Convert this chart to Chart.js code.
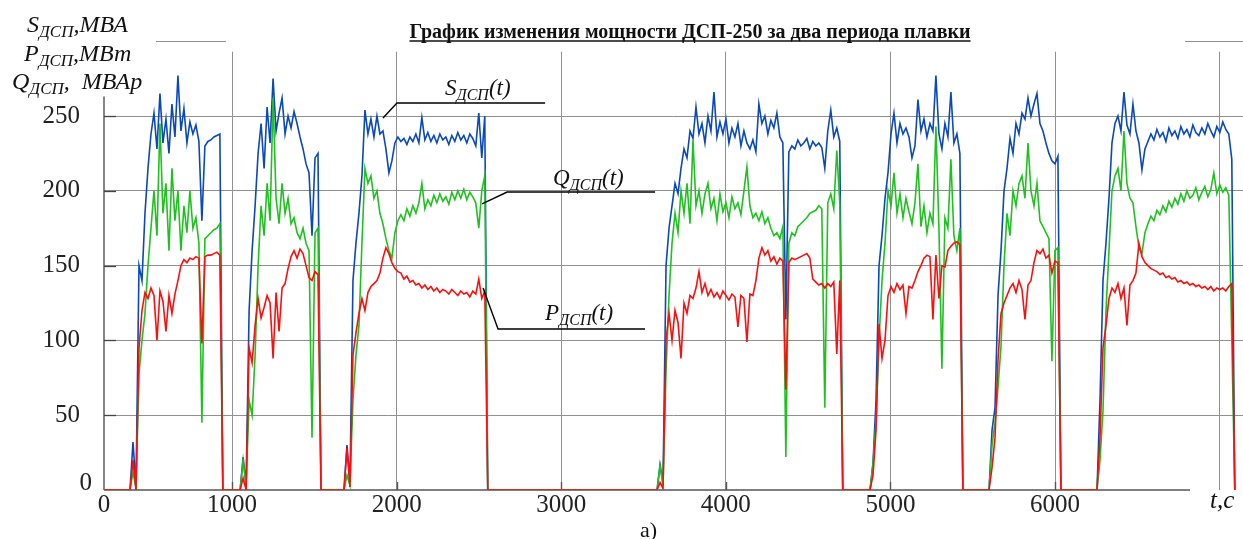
<!DOCTYPE html>
<html><head><meta charset="utf-8">
<script src="https://cdn.jsdelivr.net/npm/chart.js@4.4.1/dist/chart.umd.min.js"></script>
<style>html,body{margin:0;padding:0;background:#fff;overflow:hidden}</style>
</head><body>
<canvas id="c" width="1243" height="539" style="display:block;width:1243px;height:539px"></canvas>
<script>
// ---- data (time in seconds, power values in MVA / MW / Mvar) ----
const blockStart = [380, 1049, 1680, 3582, 4876, 5599, 6255];
const sampleStep = 18.2;

const S1 = [0,32,2,150,140,185,215,238,252,228,265,232,248,225,258,236,277,240,255,232,246,238,244,233,180,230,233,234,236,237,238,0];
const Q1 = [0,12,1,78,100,118,150,175,200,170,245,185,205,160,215,180,200,160,190,172,200,175,182,165,45,168,170,172,174,175,178,0];
const P1 = [0,20,0,95,120,132,128,135,130,100,133,126,106,130,118,131,140,150,154,152,155,154,156,155,98,156,157,157,158,159,157,0];

const S2 = [0,22,3,120,160,190,225,245,215,256,232,275,240,252,262,238,250,242,253,245,236,228,218,212,170,222,225,0];
const Q2 = [0,20,2,60,50,90,150,190,170,205,180,262,195,178,205,185,195,178,182,172,168,175,165,160,35,172,175,0];
const P2 = [0,8,0,95,85,110,128,115,122,130,125,88,132,106,135,138,148,156,160,155,161,158,150,142,140,146,144,0];

const S3 = [0,30,5,140,165,185,210,254,238,248,236,250,238,240,228,212,220,232,236,233,235,231,236,233,238,232,249,234,239,233,237,232,238,234,236,231,237,233,239,234,237,232,238,235,230,252,222,250,0];
const Q3 = [0,10,3,60,90,110,165,215,205,210,195,200,185,178,168,160,155,172,180,184,180,188,183,190,185,192,205,188,194,190,197,192,198,193,196,191,199,194,200,195,201,194,199,196,192,175,200,210,0];
const P3 = [0,28,2,90,105,118,128,120,132,136,138,140,145,155,162,158,152,148,146,145,141,143,139,140,137,138,135,137,134,136,133,135,132,134,133,131,134,132,130,133,131,132,129,133,131,141,128,133,0];

const S4 = [0,17,5,150,175,190,205,198,215,228,222,240,235,256,238,245,232,250,240,266,236,246,238,248,232,242,236,245,230,240,232,228,234,226,258,245,250,238,247,242,252,236,232,114,226,230,228,234,230,232,235,228,233,230,232,229,215,240,254,236,242,233,0];
const Q4 = [0,16,3,80,130,165,185,172,200,185,205,178,234,190,200,185,198,205,188,195,180,198,186,192,182,196,188,192,184,200,216,190,182,185,180,186,178,182,175,170,172,168,176,22,165,172,170,176,178,180,182,185,186,187,190,188,55,192,198,188,227,192,0];
const P4 = [0,5,1,100,118,100,120,112,88,125,118,130,128,135,146,132,138,130,134,129,132,128,133,130,127,131,129,109,130,128,99,131,130,140,155,162,157,160,153,156,151,155,153,67,152,155,154,155,156,157,158,155,141,139,137,138,135,138,136,139,91,140,0];

const S5 = [0,18,60,150,170,195,212,238,252,232,245,238,242,236,222,230,261,240,248,236,245,240,277,238,228,245,236,266,232,238,225,0];
const Q5 = [0,18,45,100,140,165,200,190,212,185,198,182,195,186,178,192,218,176,190,172,185,178,243,175,81,182,175,221,170,160,175,0];
const P5 = [0,10,40,111,88,100,130,136,132,138,134,137,118,136,135,140,146,150,155,157,156,114,157,128,150,149,160,163,165,166,164,0];

const S6 = [0,40,55,130,160,200,215,235,225,245,238,252,248,262,250,258,265,245,240,232,225,220,218,223,0];
const Q6 = [0,30,45,69,96,150,185,170,200,190,205,210,195,232,200,190,205,180,176,172,168,86,160,162,0];
const P6 = [0,15,35,87,118,125,130,135,138,132,140,134,114,137,140,152,160,158,161,155,157,145,153,152,0];

const S7 = [0,60,140,165,195,232,245,250,240,266,244,238,258,240,232,214,228,233,238,234,241,236,239,233,242,237,240,235,243,238,241,236,244,239,237,242,238,245,240,236,243,239,246,241,238,221,0];
const Q7 = [0,20,53,120,160,200,210,215,200,240,205,195,192,176,162,158,172,178,183,180,187,184,190,186,193,189,195,191,198,193,200,195,197,202,194,199,203,196,201,212,198,204,199,202,197,100,0];
const P7 = [0,35,95,110,128,135,132,138,128,135,110,137,140,145,165,156,152,150,148,147,146,144,145,142,143,141,142,139,140,138,139,137,138,136,137,135,136,134,136,133,135,134,135,133,136,138,0];

const xAxisStart = 222, xAxisMax = 7142, xAxisEnd = 6820;
const xTickValues = [1000, 2000, 3000, 4000, 5000, 6000, 7000];
const xTickLabels = ['1000', '2000', '3000', '4000', '5000', '6000', ''];
const yTicks = [0, 50, 100, 150, 200, 250];
const yAxisMax = 293, yAxisTop = 263;

function series(blocks) {
  const pts = [{x: 0, y: 0}];
  blocks.forEach((vals, b) => vals.forEach((v, i) => pts.push({x: blockStart[b] + i * sampleStep, y: v})));
  return pts;
}

const SERIF = '"Liberation Serif", "Times New Roman", serif';

function rich(ctx, x, y, parts) {
  let cx = x;
  for (const [t, f, dy] of parts) {
    ctx.font = f;
    ctx.fillText(t, cx, y + (dy || 0));
    cx += ctx.measureText(t).width;
  }
  return cx;
}

const decor = {
  id: 'decor',
  beforeDatasetsDraw(chart) {
    const {ctx, chartArea: a, scales: {x, y}} = chart;
    ctx.save();
    const y0 = y.getPixelForValue(0);
    // top partial frame line
    ctx.strokeStyle = '#8f8f8f'; ctx.lineWidth = 1;
    const yt = Math.round(y.getPixelForValue(300)) + 0.5;
    [[538, 963], [6790, 7142]].forEach(([a1, a2]) => {
      ctx.beginPath(); ctx.moveTo(x.getPixelForValue(a1), yt); ctx.lineTo(x.getPixelForValue(a2), yt); ctx.stroke();
    });
    // x axis line
    ctx.strokeStyle = '#555'; ctx.lineWidth = 1.4;
    ctx.beginPath(); ctx.moveTo(a.left, y0); ctx.lineTo(x.getPixelForValue(xAxisEnd), y0); ctx.stroke();
    xTickValues.forEach(v => {
      if (v > xAxisEnd) return;
      const p = Math.round(x.getPixelForValue(v)) + 0.5;
      ctx.beginPath(); ctx.moveTo(p, y0); ctx.lineTo(p, y0 - 8); ctx.stroke();
    });
    // y axis line
    ctx.strokeStyle = '#444'; ctx.lineWidth = 1.3;
    ctx.beginPath(); ctx.moveTo(a.left, y.getPixelForValue(yAxisTop)); ctx.lineTo(a.left, y0); ctx.stroke();
    yTicks.forEach(v => {
      if (v === 0) return;
      const p = Math.round(y.getPixelForValue(v)) + 0.5;
      ctx.beginPath(); ctx.moveTo(a.left, p); ctx.lineTo(a.left + 12, p); ctx.stroke();
    });
    ctx.restore();
  },
  afterDraw(chart) {
    const {ctx, chartArea: a, scales: {x, y}} = chart;
    ctx.save();
    ctx.fillStyle = '#111';
    ctx.textBaseline = 'alphabetic';
    // zero label of the y axis (raised, as in the original)
    ctx.font = '25px ' + SERIF;
    ctx.textAlign = 'right';
    ctx.fillStyle = '#222';
    ctx.fillText(String(yTicks[0]), a.left - 12, y.getPixelForValue(0));
    ctx.fillStyle = '#111';
    // title
    ctx.font = 'bold 20px ' + SERIF;
    ctx.textAlign = 'center';
    const title = 'График изменения мощности ДСП-250 за два периода плавки';
    ctx.fillText(title, 690, 38);
    const w = ctx.measureText(title).width;
    ctx.strokeStyle = '#111'; ctx.lineWidth = 1.3;
    ctx.beginPath(); ctx.moveTo(690 - w / 2, 41); ctx.lineTo(690 + w / 2, 41); ctx.stroke();
    ctx.textAlign = 'left';
    // y-axis title
    const big = 'italic 24px ' + SERIF, sub = 'italic 17px ' + SERIF;
    rich(ctx, 27, 32, [['S', big], ['ДСП', sub, 5], [',МВА', big]]);
    rich(ctx, 24, 61, [['P', big], ['ДСП', sub, 5], [',МВт', big]]);
    rich(ctx, 12, 89, [['Q', big], ['ДСП', sub, 5], [',  МВАр', big]]);
    // axis name and caption
    ctx.font = 'italic 25px ' + SERIF;
    ctx.fillText('t,c', 1210, 508);
    ctx.font = '22px ' + SERIF;
    ctx.fillText('a)', 640, 537);
    // series annotations with leader lines
    const f2 = 'italic 23px ' + SERIF, s2 = 'italic 16px ' + SERIF;
    ctx.strokeStyle = '#000'; ctx.lineWidth = 1.4;
    const leaders = [
      {lab: 'S', tx: 445, ty: 95, pts: [[1917, 248.7], [2002, 258.7], [2902, 258.7]]},
      {lab: 'Q', tx: 553, ty: 185, pts: [[2519, 191.2], [2671, 199.2], [3570, 199.2]]},
      {lab: 'P', tx: 545, ty: 320, pts: [[2525, 135.0], [2616, 107.6], [3509, 107.6]]}
    ];
    leaders.forEach(L => {
      ctx.beginPath();
      L.pts.forEach(([tv, vv], i) => {
        const px = x.getPixelForValue(tv), py = y.getPixelForValue(vv);
        if (i === 0) ctx.moveTo(px, py); else ctx.lineTo(px, py);
      });
      ctx.stroke();
      rich(ctx, L.tx, L.ty, [[L.lab, f2], ['ДСП', s2, 5], ['(t)', f2]]);
    });
    ctx.restore();
  }
};

new Chart(document.getElementById('c'), {
  type: 'line',
  data: {
    datasets: [
      {label: 'P', data: series([P1, P2, P3, P4, P5, P6, P7]), borderColor: '#ff0d0d', order: 0},
      {label: 'Q', data: series([Q1, Q2, Q3, Q4, Q5, Q6, Q7]), borderColor: '#1ec21e', order: 1},
      {label: 'S', data: series([S1, S2, S3, S4, S5, S6, S7]), borderColor: '#0a48bd', order: 2}
    ]
  },
  options: {
    responsive: false,
    animation: false,
    devicePixelRatio: 1,
    elements: {line: {borderWidth: 1.6, tension: 0}, point: {radius: 0}},
    layout: {padding: {top: 51.7, right: 0, left: 0, bottom: 0}},
    plugins: {legend: {display: false}, tooltip: {enabled: false}, title: {display: false}},
    scales: {
      x: {
        type: 'linear', min: xAxisStart, max: xAxisMax,
        afterFit: s => { s.height = 49; },
        afterBuildTicks: s => { s.ticks = [{value: xAxisStart}].concat(xTickValues.map(v => ({value: v}))); },
        border: {display: false},
        grid: {drawTicks: false, lineWidth: 1, color: c => (c.tick && c.tick.value === xAxisStart) ? 'rgba(0,0,0,0)' : '#909090'},
        ticks: {
          autoSkip: false, maxRotation: 0, padding: 0, color: '#222',
          font: {family: SERIF, size: 25},
          callback: (v) => v === xAxisStart ? '0' : xTickLabels[xTickValues.indexOf(v)]
        }
      },
      y: {
        type: 'linear', min: 0, max: yAxisMax,
        afterFit: s => { s.width = 104; },
        afterBuildTicks: s => { s.ticks = yTicks.map(v => ({value: v})); },
        border: {display: false},
        grid: {drawTicks: false, lineWidth: 1, color: c => (c.tick && c.tick.value === 0) ? 'rgba(0,0,0,0)' : '#909090'},
        ticks: {padding: 24, color: '#222', font: {family: SERIF, size: 25},
          callback: v => v === 0 ? '' : String(v)}
      }
    }
  },
  plugins: [decor]
});
</script>
</body></html>
